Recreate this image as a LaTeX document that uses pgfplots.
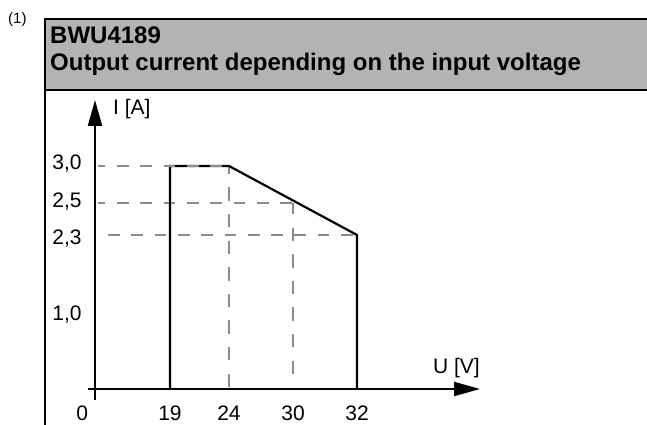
\documentclass[border=0pt]{standalone}
\usepackage{fontspec}
\setmainfont{Liberation Sans}
\usepackage{pgfplots}
\pgfplotsset{compat=1.18}
\usetikzlibrary{arrows.meta}
\definecolor{hdr}{RGB}{179,179,179}
\definecolor{dgray}{RGB}{140,140,140}
\begin{document}
\begin{tikzpicture}[x=1pt,y=1pt]
\useasboundingbox (0,0) rectangle (647,425);
\fill[hdr] (45,406) rectangle (647,335);
\draw[line width=2pt] (647,406) -- (45,406) -- (45,-2);
\draw[line width=2pt] (45,335) -- (647,335);
\node[anchor=base west, inner sep=0pt, font=\fontsize{15}{17}\selectfont] at (8,401) {(1)};
\node[anchor=base west, inner sep=0pt, font=\fontsize{24}{27}\selectfont\bfseries] at (50,381.5) {BWU4189};
\node[anchor=base west, inner sep=0pt, font=\fontsize{24}{27}\selectfont\bfseries] at (50,354.5) {Output current depending on the input voltage};
\begin{axis}[
  at={(95pt,36pt)}, anchor=origin,
  scale only axis, width=392pt, height=300pt,
  xmin=-7, xmax=385, ymin=-11, ymax=289,
  axis lines=middle,
  axis line style={line width=2pt, -{Triangle[length=26pt,width=14pt]}},
  hide obscured x ticks=false, hide obscured y ticks=false,
  tick style={draw=none},
  xtick={0,75,134,198,262},
  xticklabels={{\makebox[0pt][r]{0\hspace{7pt}}},{19},{24},{30},{32}},
  ytick={76,154,186,223},
  yticklabels={{1,0},{\raisebox{-1.7pt}{2,3}},{\raisebox{3.2pt}{2,5}},{\raisebox{3.8pt}{3,0}}},
  tick label style={font=\fontsize{21}{24}\selectfont},
  xticklabel style={anchor=north, inner sep=0pt, yshift=-14.5pt},
  yticklabel style={anchor=base east, inner sep=0pt, xshift=-11pt, yshift=-7.5pt},
  xlabel={U [V]}, ylabel={I [A]},
  xlabel style={at={(rel axis cs:1,0.0867)}, anchor=base east, inner sep=0pt, font=\fontsize{21}{24}\selectfont},
  ylabel style={at={(rel axis cs:0.0638,0.95)}, anchor=base west, inner sep=0pt, rotate=0, font=\fontsize{21}{24}\selectfont},
  clip=false,
]
% dashed guide lines
\addplot[dgray, line width=1.3pt, dash pattern=on 11.7pt off 11.6pt, dash phase=4.3pt] coordinates {(3,186) (198,186)};
\addplot[dgray, line width=1.3pt, dash pattern=on 11.7pt off 11.6pt, dash phase=13.3pt] coordinates {(3,154) (262,154)};
\addplot[dgray, line width=1.3pt, dash pattern=on 13.3pt off 13.3pt] coordinates {(134,2) (134,223)};
\addplot[dgray, line width=1.3pt, dash pattern=on 13.3pt off 13.3pt] coordinates {(198,15) (198,186)};
% characteristic curve
\addplot[black, line width=2.2pt] coordinates {(75,0) (75,223) (134,223) (262,154) (262,0)};
\addplot[dgray, line width=1.3pt, dash pattern=on 11.7pt off 11.6pt, dash phase=4.3pt] coordinates {(3,223) (134,223)};
\end{axis}
\end{tikzpicture}
\end{document}
